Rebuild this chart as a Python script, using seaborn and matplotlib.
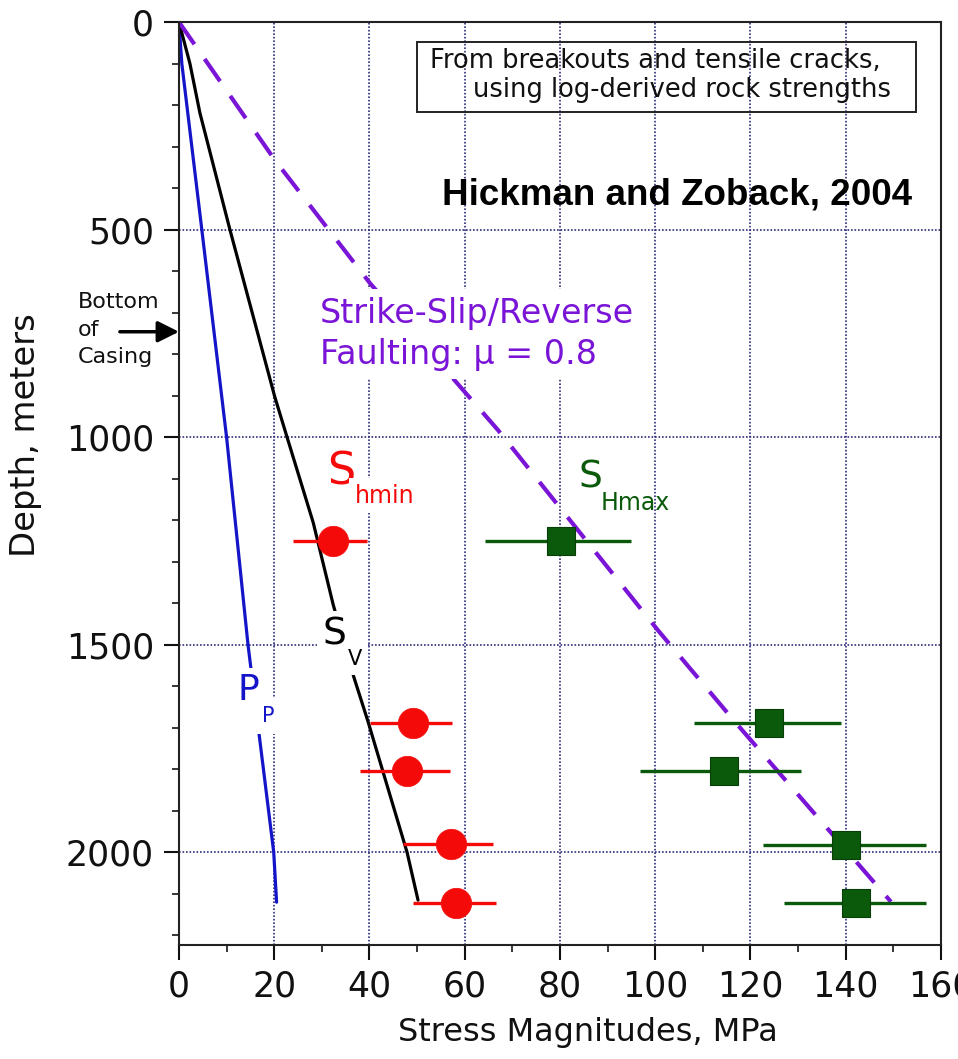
import matplotlib
matplotlib.use("Agg")
import matplotlib.pyplot as plt
from matplotlib.patches import Rectangle
from matplotlib.ticker import MultipleLocator
import seaborn as sns
import pandas as pd

# ---------------- data ----------------
pp_depth = [0, 100, 500, 1000, 1500, 2000, 2120]
pp_stress = [0, 0.6, 4.8, 10.0, 14.5, 19.9, 20.5]

sv_depth = [0, 100, 219, 500, 902, 1000, 1206, 1404, 1577, 1685, 2000, 2115]
sv_stress = [0, 2.3, 4.4, 10.7, 20.1, 22.7, 28.2, 32.4, 36.7, 39.7, 47.9, 50.2]

ss_depth = [0, 332, 629, 983, 1464, 1689, 2119]
ss_stress = [0, 20.1, 40.1, 67.0, 100.5, 117.0, 149.5]

shmin_depth = [1250, 1688, 1805, 1980, 2122]
shmin = [32.3, 49.2, 47.9, 57.2, 58.1]
shmin_lo = [24.0, 40.1, 38.0, 47.1, 49.2]
shmin_hi = [39.4, 57.4, 57.0, 65.9, 66.6]

shmax_depth = [1250, 1688, 1805, 1983, 2122]
shmax = [80.2, 124.0, 114.4, 140.1, 142.2]
shmax_lo = [64.2, 108.1, 96.8, 122.6, 127.0]
shmax_hi = [94.9, 139.0, 130.6, 156.8, 156.8]

x_ticks = [0, 20, 40, 60, 80, 100, 120, 140, 160]
y_ticks = [0, 500, 1000, 1500, 2000]

# ---------------- style ----------------
sns.set_theme(style="ticks")
plt.rcParams["font.family"] = ["DejaVu Sans"]

BLUE = "#1414C8"
PURPLE = "#7A14D6"
RED = "#F50A0A"
GREEN = "#0B5A0B"
GRID = "#2E2E7A"

fig = plt.figure(figsize=(9.58, 10.59), dpi=100)
ax = fig.add_axes([0.1868, 0.1077, 0.7954, 0.8715])

ax.set_xlim(0, 160)
ax.set_ylim(2223, 0)

# grid
ax.set_xticks(x_ticks)
ax.set_yticks(y_ticks)
ax.xaxis.set_minor_locator(MultipleLocator(10))
ax.yaxis.set_minor_locator(MultipleLocator(100))
ax.grid(True, which="major", color=GRID, linestyle=(0, (1, 1.1)), linewidth=1.2, zorder=0)
ax.set_axisbelow(True)

# lines
sns.lineplot(x=pp_stress, y=pp_depth, sort=False, estimator=None, color=BLUE,
             linewidth=2.3, ax=ax, zorder=2)
sns.lineplot(x=sv_stress, y=sv_depth, sort=False, estimator=None, color="black",
             linewidth=2.3, ax=ax, zorder=2)
sns.lineplot(x=ss_stress, y=ss_depth, sort=False, estimator=None, color=PURPLE,
             linewidth=3.0, ax=ax, zorder=2, dashes=False)
ax.lines[-1].set_dashes((6.5, 4.3))

# error bars
ax.hlines(shmin_depth, shmin_lo, shmin_hi, color=RED, linewidth=2.4, zorder=3)
ax.hlines(shmax_depth, shmax_lo, shmax_hi, color=GREEN, linewidth=2.4, zorder=3)

# markers
sns.scatterplot(x=shmin, y=shmin_depth, marker="o", s=480, color=RED,
                edgecolor=RED, linewidth=0.5, ax=ax, zorder=4)
sns.scatterplot(x=shmax, y=shmax_depth, marker="s", s=430, color=GREEN,
                edgecolor="#083F08", linewidth=0.8, ax=ax, zorder=4)

# spines / ticks
for sp in ax.spines.values():
    sp.set_linewidth(1.5)
    sp.set_color("#222222")
ax.tick_params(axis="both", which="major", direction="out", length=11, width=1.5,
               labelsize=25, pad=7, colors="#111111")
ax.tick_params(axis="both", which="minor", direction="out", length=5, width=1.3)
ax.tick_params(top=False, right=False, which="both")

ax.set_xlabel("Stress Magnitudes, MPa", fontsize=23, color="#111111")
ax.set_ylabel("Depth, meters", fontsize=24.4, color="#111111")
ax.xaxis.set_label_coords(0.537, -0.078)
ax.yaxis.set_label_coords(-0.1795, 0.552)

white = dict(facecolor="white", edgecolor="none", pad=4)

# labels on curves
ax.text(31.1, 1115, "S", color=RED, fontsize=32, ha="left", va="baseline",
        zorder=6, bbox=white)
ax.text(37.0, 1158, "hmin", color=RED, fontsize=17, ha="left", va="baseline",
        zorder=6, bbox=white)

ax.text(83.8, 1120, "S", color=GREEN, fontsize=27, ha="left", va="baseline", zorder=6)
ax.text(88.6, 1175, "Hmax", color=GREEN, fontsize=17, ha="left", va="baseline", zorder=6)

ax.text(30.2, 1500, "S", color="black", fontsize=27, ha="left", va="baseline",
        zorder=6, bbox=white)
ax.text(35.5, 1549, "V", color="black", fontsize=15, ha="left", va="baseline",
        zorder=6, bbox=white)

ax.text(12.2, 1633, "P", color=BLUE, fontsize=26, ha="left", va="baseline",
        zorder=6, bbox=white)
ax.text(17.4, 1686, "P", color=BLUE, fontsize=15, ha="left", va="baseline",
        zorder=6, bbox=dict(facecolor="white", edgecolor="none", pad=6))

ax.text(29.6, 662, "Strike-Slip/Reverse\nFaulting: \u03bc = 0.8", color=PURPLE,
        fontsize=24, ha="left", va="top", linespacing=1.3, zorder=6,
        bbox=dict(facecolor="white", edgecolor="none", pad=6))

# annotation box
ax.add_patch(Rectangle((0.312, 0.9028), 0.9676 - 0.312, 0.9787 - 0.9028,
                       transform=ax.transAxes, facecolor="none", edgecolor="#222222",
                       linewidth=1.4, zorder=5))
ax.text(0.9213, 0.950, "From breakouts and tensile cracks,", transform=ax.transAxes,
        fontsize=18.5, ha="right", va="baseline", color="#111111", zorder=6)
ax.text(0.9344, 0.919, "using log-derived rock strengths", transform=ax.transAxes,
        fontsize=18.5, ha="right", va="baseline", color="#111111", zorder=6)

ax.text(0.6535, 0.8028, "Hickman and Zoback, 2004", transform=ax.transAxes,
        fontsize=26.5, fontweight="bold", family="Liberation Sans",
        ha="center", va="baseline", color="black", zorder=6)

# bottom of casing
ax.text(-21.2, 741, "Bottom\nof\nCasing", fontsize=16, ha="left", va="center",
        linespacing=1.45, color="#111111", clip_on=False)
ax.annotate("", xy=(0, 746), xytext=(-12.4, 746),
            arrowprops=dict(arrowstyle="-|>", lw=2.5, color="black",
                            mutation_scale=32, shrinkA=0, shrinkB=0),
            annotation_clip=False)

fig.savefig("out.png", dpi=100)
